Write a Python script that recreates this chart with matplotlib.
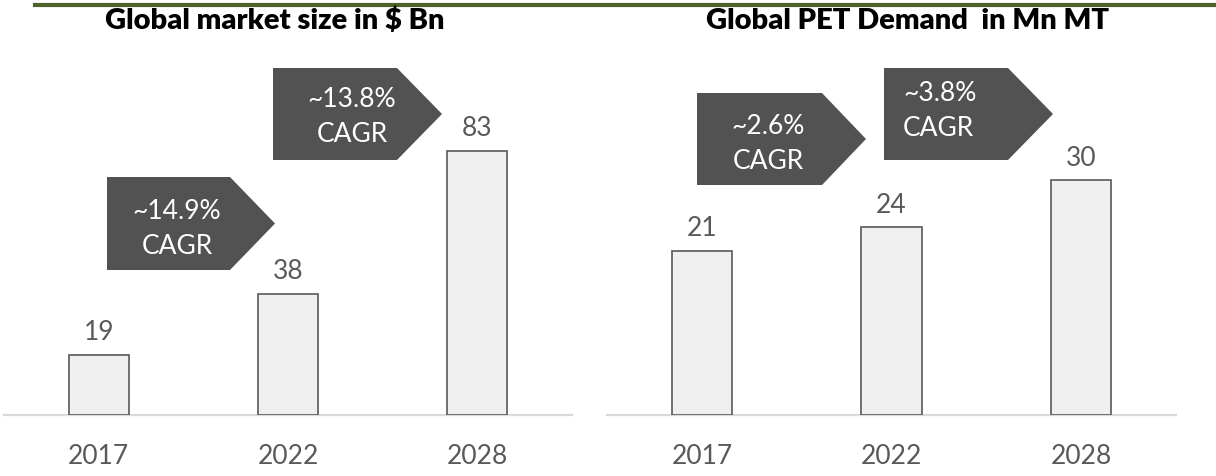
import matplotlib.pyplot as plt
from matplotlib.patches import Polygon

plt.rcParams['font.family'] = ['Lato', 'DejaVu Sans']

years = ['2017', '2022', '2028']
market_size = [19, 38, 83]
pet_demand = [21, 24, 30]

market_title = "Global market size in $ Bn"
pet_title = "Global PET Demand  in Mn MT"

market_cagr = ["~14.9%\nCAGR", "~13.8%\nCAGR"]
pet_cagr = ["~2.6%\nCAGR", "~3.8%\nCAGR"]

W, H = 1216, 476
bar_face = '#f0f0f0'
bar_edge = '#595959'
grey_txt = '#595959'
callout_col = '#525252'

fig = plt.figure(figsize=(W / 100, H / 100), dpi=100)


def px(x, y):
    # pixel position (from top-left) -> figure fraction
    return x / W, 1 - y / H


def callout(left, top, right, bottom, tip, text, tx, ty, ha='center'):
    mid = (top + bottom) / 2
    pts = [px(left, top), px(right, top), px(tip, mid), px(right, bottom), px(left, bottom)]
    fig.patches.append(Polygon(pts, closed=True, transform=fig.transFigure,
                               facecolor=callout_col, edgecolor='none'))
    x, y = px(tx, ty)
    fig.text(x, y, text, color='white', fontsize=19, ha=ha, va='center',
             linespacing=1.5)


def bar_panel(x0, width, values, ymax):
    ax = fig.add_axes([x0 / W, (H - 415) / H, width / W, 355 / H])
    bars = ax.bar(range(len(values)), values, width=0.317, color=bar_face,
                  edgecolor=bar_edge, linewidth=1.2, zorder=3)
    ax.bar_label(bars, labels=[str(v) for v in values], padding=7,
                 fontsize=19, color=grey_txt)
    ax.set_xlim(-0.5, 2.5)
    ax.set_ylim(0, ymax)
    ax.set_xticks(range(len(years)))
    ax.set_xticklabels(years, fontsize=19, color=grey_txt)
    ax.tick_params(axis='x', length=0, pad=21)
    ax.set_yticks([])
    for s in ['top', 'left', 'right']:
        ax.spines[s].set_visible(False)
    ax.spines['bottom'].set_color('#d9d9d9')
    ax.spines['bottom'].set_linewidth(1.6)
    ax.patch.set_alpha(0)
    return ax


bar_panel(4, 568, market_size, 355 / 3.18)
bar_panel(607, 569, pet_demand, 355 / 7.82)

# green rule at the top
fig.add_artist(plt.Line2D([35 / W, 1.0], [1 - 4.5 / H, 1 - 4.5 / H], transform=fig.transFigure,
                          color='#4f6228', linewidth=3))

fig.text(*px(275, 21), market_title, fontsize=21, fontweight='heavy', ha='center', va='center')
fig.text(*px(907, 21), pet_title, fontsize=21, fontweight='heavy', ha='center', va='center')

callout(107, 177, 230, 270, 275, market_cagr[0], 177, 229)
callout(273, 68, 397, 160, 442, market_cagr[1], 352, 117)
callout(697, 93, 822, 185, 866, pet_cagr[0], 768, 144)
callout(884, 68, 1008, 160, 1053, pet_cagr[1], 903, 111, ha='left')

fig.savefig('out.png', dpi=100)
